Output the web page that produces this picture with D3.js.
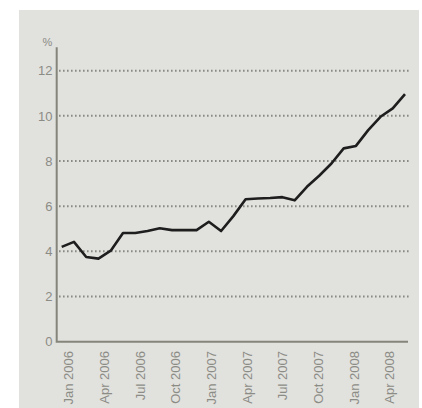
<!DOCTYPE html>
<html>
<head>
<meta charset="utf-8">
<script src="https://cdn.jsdelivr.net/npm/d3@7"></script>
<style>
  body { margin: 0; background: #fff; }
  text { font-family: "Liberation Sans", Arial, sans-serif; fill: #8c8c86; }
</style>
</head>
<body>
<div id="chart"></div>
<script>
// monthly values, Jan 2006 - May 2008
var months = ["Jan 2006","Feb 2006","Mar 2006","Apr 2006","May 2006","Jun 2006","Jul 2006","Aug 2006","Sep 2006","Oct 2006","Nov 2006","Dec 2006",
    "Jan 2007","Feb 2007","Mar 2007","Apr 2007","May 2007","Jun 2007","Jul 2007","Aug 2007","Sep 2007","Oct 2007","Nov 2007","Dec 2007",
    "Jan 2008","Feb 2008","Mar 2008","Apr 2008","May 2008"]
var values = [4.2, 4.42, 3.75, 3.68, 4.03, 4.81, 4.81, 4.9, 5.02, 4.94, 4.94, 4.94,
    5.31, 4.9, 5.56, 6.31, 6.34, 6.36, 6.4, 6.26, 6.86, 7.35, 7.89, 8.56,
    8.67, 9.37, 9.96, 10.33, 10.96]
var tickLabels = ["Jan 2006","Apr 2006","Jul 2006","Oct 2006","Jan 2007","Apr 2007","Jul 2007","Oct 2007","Jan 2008","Apr 2008"]
var yTicks = [0, 2, 4, 6, 8, 10, 12]

var width = 422, height = 408

var svg = d3.select("#chart")
    .append("svg")
    .attr("width", width)
    .attr("height", height)

svg.append("rect")
    .attr("x", 19).attr("y", 10)
    .attr("width", 400).attr("height", 398)
    .attr("fill", "#e1e1dd")

var x = d3.scaleLinear().domain([0, values.length - 1]).range([61.7, 405])
var xLabel = d3.scaleLinear().domain([0, 27]).range([68.5, 389.5])
var y = d3.scaleLinear().domain([0, 12]).range([341.7, 70.7])

// dotted gridlines
svg.selectAll(".grid")
    .data(yTicks.filter(function (d) { return d > 0 }))
    .enter()
    .append("line")
    .attr("x1", 59).attr("x2", 411)
    .attr("y1", function (d) { return y(d) })
    .attr("y2", function (d) { return y(d) })
    .attr("stroke", "#8a8a84")
    .attr("stroke-width", 2)
    .attr("stroke-dasharray", "1.6,2.4")

svg.selectAll(".ylab")
    .data(yTicks)
    .enter()
    .append("text")
    .attr("x", 52.5)
    .attr("y", function (d) { return y(d) })
    .attr("dy", "0.36em")
    .attr("text-anchor", "end")
    .attr("font-size", 13)
    .text(function (d) { return d })

svg.append("text")
    .attr("x", 47.5).attr("y", 42.5)
    .attr("dy", "0.36em")
    .attr("text-anchor", "middle")
    .attr("font-size", 11)
    .text("%")

// axes
svg.append("path")
    .attr("d", "M56.7,47.3V341.7H408")
    .attr("fill", "none")
    .attr("stroke", "#85857c")
    .attr("stroke-width", 2)

svg.selectAll(".xlab")
    .data(tickLabels)
    .enter()
    .append("text")
    .attr("transform", function (d) {
        return "translate(" + xLabel(months.indexOf(d) >= 0 ? months.indexOf(d) : 27) + ",351) rotate(-90)"
    })
    .attr("dy", "0.36em")
    .attr("text-anchor", "end")
    .attr("font-size", 13)
    .text(function (d) { return d })

var line = d3.line()
    .x(function (d, i) { return x(i) })
    .y(function (d) { return y(d) })

svg.append("path")
    .datum(values)
    .attr("d", line)
    .attr("fill", "none")
    .attr("stroke", "#1e1e1e")
    .attr("stroke-width", 2.6)
    .attr("stroke-linejoin", "round")
</script>
</body>
</html>
